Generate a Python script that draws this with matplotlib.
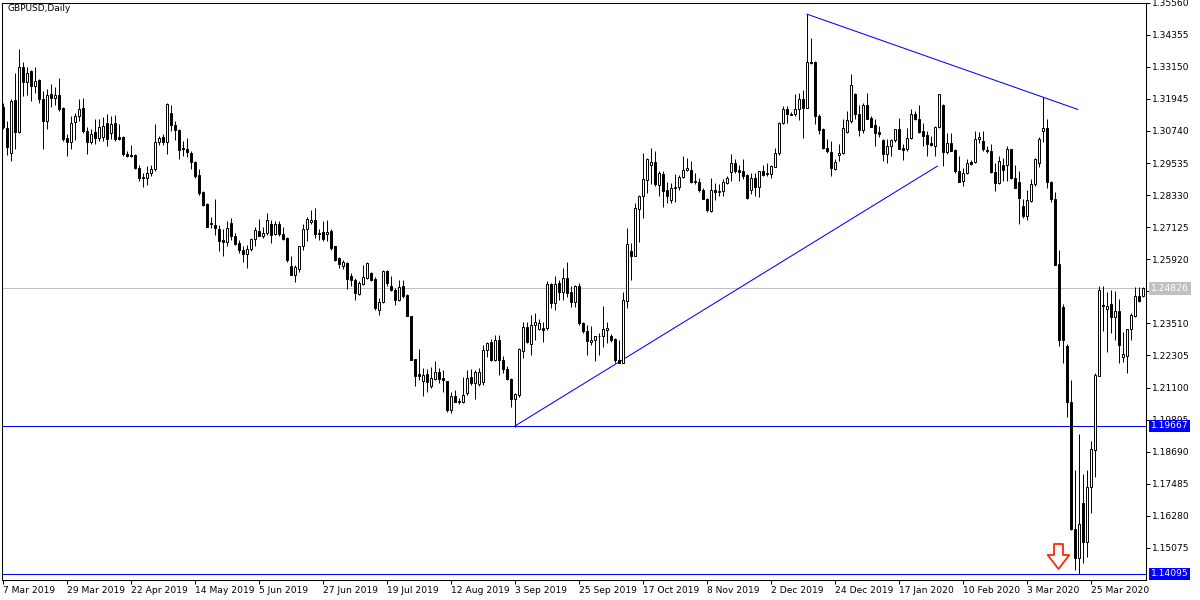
import matplotlib
matplotlib.use("Agg")
import matplotlib.pyplot as plt
import numpy as np
from matplotlib.path import Path

plt.rcParams['font.family'] = ['DejaVu Sans']
plt.rcParams['font.size'] = 6.6

# GBPUSD daily candles, 7 Mar 2019 .. mid Apr 2020
opens = [
    1.3165, 1.3085, 1.2990, 1.3192, 1.3070, 1.3314, 1.3257, 1.3299, 1.3242, 1.3265,
    1.3193, 1.3110, 1.3212, 1.3197, 1.3208, 1.3159, 1.3046, 1.3031, 1.3106, 1.3129,
    1.3159, 1.3073, 1.3031, 1.3069, 1.3046, 1.3053, 1.3103, 1.3068, 1.3103, 1.3053,
    1.3053, 1.2986, 1.2985, 1.2982, 1.2936, 1.2900, 1.2898, 1.2917, 1.2930, 1.3033,
    1.3051, 1.3033, 1.3143, 1.3096, 1.3076, 1.3011, 1.3005, 1.2992, 1.2957, 1.2907,
    1.2844, 1.2798, 1.2729, 1.2722, 1.2706, 1.2664, 1.2656, 1.2729, 1.2679, 1.2654,
    1.2628, 1.2610, 1.2631, 1.2669, 1.2700, 1.2681, 1.2691, 1.2725, 1.2687, 1.2723,
    1.2687, 1.2672, 1.2566, 1.2532, 1.2556, 1.2641, 1.2704, 1.2733, 1.2741, 1.2687,
    1.2695, 1.2687, 1.2697, 1.2641, 1.2597, 1.2568, 1.2578, 1.2528, 1.2515, 1.2463,
    1.2500, 1.2522, 1.2541, 1.2518, 1.2403, 1.2430, 1.2547, 1.2493, 1.2478, 1.2438,
    1.2490, 1.2459, 1.2377, 1.2217, 1.2160, 1.2133, 1.2160, 1.2116, 1.2141, 1.2170,
    1.2145, 1.2133, 1.2026, 1.2079, 1.2061, 1.2054, 1.2089, 1.2148, 1.2126, 1.2124,
    1.2129, 1.2252, 1.2283, 1.2214, 1.2290, 1.2214, 1.2179, 1.2143, 1.2066, 1.2082,
    1.2249, 1.2336, 1.2273, 1.2346, 1.2330, 1.2333, 1.2333, 1.2500, 1.2428, 1.2503,
    1.2468, 1.2522, 1.2468, 1.2430, 1.2493, 1.2352, 1.2321, 1.2280, 1.2290, 1.2302,
    1.2302, 1.2327, 1.2305, 1.2292, 1.2214, 1.2204, 1.2434, 1.2622, 1.2606, 1.2781,
    1.2829, 1.2889, 1.2946, 1.2958, 1.2871, 1.2911, 1.2851, 1.2814, 1.2861, 1.2864,
    1.2901, 1.2927, 1.2927, 1.2882, 1.2882, 1.2854, 1.2817, 1.2773, 1.2852, 1.2844,
    1.2848, 1.2879, 1.2920, 1.2952, 1.2927, 1.2922, 1.2907, 1.2852, 1.2898, 1.2864,
    1.2922, 1.2911, 1.2911, 1.2940, 1.2990, 1.3105, 1.3158, 1.3139, 1.3137, 1.3155,
    1.3196, 1.3162, 1.3335, 1.3334, 1.3130, 1.3080, 1.3011, 1.2996, 1.2932, 1.2984,
    1.2990, 1.3070, 1.3112, 1.3212, 1.3137, 1.3078, 1.3171, 1.3124, 1.3095, 1.3070,
    1.3040, 1.2989, 1.3017, 1.3039, 1.3080, 1.3011, 1.3007, 1.3049, 1.3139, 1.3120,
    1.3074, 1.3058, 1.3027, 1.3017, 1.3090, 1.3171, 1.2995, 1.3030, 1.3002, 1.2923,
    1.2886, 1.2915, 1.2958, 1.2957, 1.3043, 1.3036, 1.3002, 1.2999, 1.2920, 1.2879,
    1.2945, 1.2945, 1.3005, 1.2898, 1.2882, 1.2794, 1.2754, 1.2810, 1.2873, 1.2955,
    1.3074, 1.3086, 1.2882, 1.2819, 1.2576, 1.2412, 1.2267, 1.2054, 1.1580, 1.1468,
    1.1675, 1.1530, 1.1735, 1.1875, 1.2155, 1.2421, 1.2405, 1.2425, 1.2375, 1.2396,
    1.2225, 1.2227, 1.2330, 1.2377, 1.2455, 1.2453,
]
highs = [
    1.3180, 1.3110, 1.3195, 1.3290, 1.3381, 1.3332, 1.3314, 1.3302, 1.3314, 1.3270,
    1.3223, 1.3231, 1.3250, 1.3240, 1.3272, 1.3165, 1.3061, 1.3129, 1.3140, 1.3193,
    1.3197, 1.3088, 1.3080, 1.3118, 1.3118, 1.3125, 1.3137, 1.3130, 1.3133, 1.3099,
    1.3055, 1.2999, 1.3020, 1.2986, 1.2948, 1.2917, 1.2942, 1.2948, 1.3099, 1.3055,
    1.3061, 1.3178, 1.3171, 1.3112, 1.3083, 1.3036, 1.3047, 1.2999, 1.2960, 1.2930,
    1.2848, 1.2802, 1.2750, 1.2817, 1.2722, 1.2704, 1.2735, 1.2748, 1.2691, 1.2666,
    1.2641, 1.2647, 1.2672, 1.2714, 1.2744, 1.2714, 1.2764, 1.2741, 1.2735, 1.2735,
    1.2714, 1.2676, 1.2603, 1.2572, 1.2641, 1.2723, 1.2751, 1.2777, 1.2785, 1.2706,
    1.2737, 1.2739, 1.2706, 1.2643, 1.2601, 1.2591, 1.2582, 1.2541, 1.2522, 1.2509,
    1.2572, 1.2581, 1.2543, 1.2525, 1.2446, 1.2553, 1.2553, 1.2528, 1.2484, 1.2515,
    1.2515, 1.2460, 1.2380, 1.2217, 1.2254, 1.2183, 1.2179, 1.2189, 1.2210, 1.2183,
    1.2177, 1.2133, 1.2095, 1.2101, 1.2070, 1.2151, 1.2177, 1.2179, 1.2177, 1.2183,
    1.2270, 1.2283, 1.2292, 1.2308, 1.2308, 1.2227, 1.2192, 1.2145, 1.2088, 1.2258,
    1.2355, 1.2358, 1.2384, 1.2390, 1.2367, 1.2358, 1.2509, 1.2503, 1.2530, 1.2515,
    1.2559, 1.2582, 1.2490, 1.2497, 1.2503, 1.2355, 1.2346, 1.2340, 1.2305, 1.2315,
    1.2415, 1.2358, 1.2312, 1.2296, 1.2289, 1.2468, 1.2710, 1.2654, 1.2802, 1.2835,
    1.2990, 1.2974, 1.3011, 1.2999, 1.2923, 1.2923, 1.2882, 1.2879, 1.2911, 1.2907,
    1.2980, 1.2974, 1.2961, 1.2917, 1.2898, 1.2861, 1.2823, 1.2898, 1.2879, 1.2873,
    1.2892, 1.2904, 1.2986, 1.2967, 1.2948, 1.2970, 1.2911, 1.2917, 1.2915, 1.2923,
    1.2945, 1.2955, 1.2948, 1.3011, 1.3108, 1.3166, 1.3166, 1.3145, 1.3212, 1.3216,
    1.3228, 1.3513, 1.3422, 1.3337, 1.3137, 1.3086, 1.3045, 1.3036, 1.2967, 1.3024,
    1.3118, 1.3149, 1.3287, 1.3218, 1.3170, 1.3178, 1.3216, 1.3130, 1.3118, 1.3093,
    1.3043, 1.3043, 1.3045, 1.3083, 1.3124, 1.3024, 1.3086, 1.3158, 1.3149, 1.3171,
    1.3105, 1.3074, 1.3055, 1.3093, 1.3212, 1.3174, 1.3068, 1.3068, 1.3005, 1.2980,
    1.2936, 1.2967, 1.2965, 1.3074, 1.3070, 1.3074, 1.3017, 1.3026, 1.2955, 1.2980,
    1.2974, 1.3017, 1.3007, 1.2948, 1.2923, 1.2817, 1.2854, 1.2892, 1.2974, 1.3053,
    1.3203, 1.3118, 1.2886, 1.2846, 1.2626, 1.2425, 1.2274, 1.2139, 1.1800, 1.1936,
    1.1785, 1.1800, 1.1911, 1.2165, 1.2490, 1.2490, 1.2468, 1.2475, 1.2471, 1.2443,
    1.2320, 1.2330, 1.2390, 1.2488, 1.2488, 1.2488,
]
lows = [
    1.3080, 1.2985, 1.2960, 1.3005, 1.3065, 1.3204, 1.3210, 1.3186, 1.3217, 1.3180,
    1.3005, 1.3080, 1.3163, 1.3170, 1.3148, 1.3036, 1.2979, 1.3005, 1.3040, 1.3110,
    1.3065, 1.2986, 1.3025, 1.3025, 1.3036, 1.3036, 1.3017, 1.3043, 1.3036, 1.3040,
    1.2980, 1.2975, 1.2975, 1.2930, 1.2886, 1.2864, 1.2872, 1.2904, 1.2923, 1.3020,
    1.3020, 1.2986, 1.3074, 1.3039, 1.2967, 1.2980, 1.2975, 1.2930, 1.2898, 1.2835,
    1.2792, 1.2714, 1.2710, 1.2685, 1.2622, 1.2603, 1.2643, 1.2666, 1.2647, 1.2616,
    1.2581, 1.2559, 1.2622, 1.2641, 1.2679, 1.2672, 1.2685, 1.2653, 1.2682, 1.2679,
    1.2666, 1.2580, 1.2532, 1.2505, 1.2543, 1.2626, 1.2660, 1.2723, 1.2672, 1.2666,
    1.2660, 1.2660, 1.2627, 1.2584, 1.2559, 1.2555, 1.2480, 1.2490, 1.2438, 1.2459,
    1.2497, 1.2518, 1.2509, 1.2403, 1.2384, 1.2428, 1.2490, 1.2472, 1.2421, 1.2434,
    1.2446, 1.2378, 1.2212, 1.2116, 1.2139, 1.2079, 1.2095, 1.2108, 1.2139, 1.2126,
    1.2095, 1.2020, 1.2016, 1.2054, 1.2049, 1.2051, 1.2083, 1.2120, 1.2066, 1.2116,
    1.2120, 1.2224, 1.2208, 1.2208, 1.2158, 1.2164, 1.2139, 1.2038, 1.1963, 1.2076,
    1.2220, 1.2277, 1.2233, 1.2289, 1.2327, 1.2283, 1.2327, 1.2410, 1.2400, 1.2440,
    1.2440, 1.2450, 1.2412, 1.2412, 1.2346, 1.2315, 1.2233, 1.2271, 1.2208, 1.2233,
    1.2264, 1.2277, 1.2283, 1.2202, 1.2202, 1.2202, 1.2409, 1.2515, 1.2603, 1.2656,
    1.2748, 1.2842, 1.2873, 1.2867, 1.2829, 1.2789, 1.2802, 1.2804, 1.2806, 1.2854,
    1.2897, 1.2923, 1.2877, 1.2873, 1.2844, 1.2817, 1.2769, 1.2770, 1.2814, 1.2829,
    1.2829, 1.2873, 1.2886, 1.2917, 1.2886, 1.2892, 1.2820, 1.2836, 1.2830, 1.2827,
    1.2905, 1.2905, 1.2896, 1.2937, 1.2982, 1.3099, 1.3103, 1.3133, 1.3130, 1.3115,
    1.3049, 1.3162, 1.3325, 1.3099, 1.3061, 1.3007, 1.2992, 1.2905, 1.2927, 1.2961,
    1.2986, 1.3068, 1.3105, 1.3118, 1.3055, 1.3068, 1.3118, 1.3090, 1.3017, 1.3053,
    1.2961, 1.2955, 1.2980, 1.3032, 1.3005, 1.2965, 1.2998, 1.3045, 1.3115, 1.3068,
    1.3017, 1.2980, 1.3017, 1.2980, 1.3086, 1.2942, 1.2986, 1.2999, 1.2917, 1.2882,
    1.2869, 1.2911, 1.2948, 1.2955, 1.3030, 1.2999, 1.2992, 1.2917, 1.2848, 1.2873,
    1.2886, 1.2886, 1.2894, 1.2861, 1.2726, 1.2748, 1.2739, 1.2807, 1.2867, 1.2940,
    1.3033, 1.2861, 1.2807, 1.2572, 1.2267, 1.2202, 1.2001, 1.1575, 1.1424, 1.1411,
    1.1449, 1.1475, 1.1637, 1.1775, 1.2152, 1.2321, 1.2242, 1.2315, 1.2290, 1.2204,
    1.2205, 1.2164, 1.2287, 1.2375, 1.2430, 1.2450,
]
closes = [
    1.3090, 1.3015, 1.3188, 1.3070, 1.3314, 1.3257, 1.3291, 1.3242, 1.3261, 1.3193,
    1.3110, 1.3208, 1.3197, 1.3210, 1.3155, 1.3043, 1.3031, 1.3103, 1.3129, 1.3155,
    1.3073, 1.3031, 1.3061, 1.3046, 1.3088, 1.3093, 1.3045, 1.3099, 1.3043, 1.3043,
    1.2986, 1.2980, 1.2980, 1.2936, 1.2898, 1.2898, 1.2917, 1.2933, 1.3033, 1.3049,
    1.3033, 1.3174, 1.3096, 1.3076, 1.3002, 1.3005, 1.2995, 1.2957, 1.2905, 1.2842,
    1.2795, 1.2714, 1.2723, 1.2710, 1.2660, 1.2657, 1.2710, 1.2679, 1.2651, 1.2626,
    1.2610, 1.2631, 1.2669, 1.2701, 1.2681, 1.2690, 1.2741, 1.2685, 1.2726, 1.2687,
    1.2670, 1.2588, 1.2532, 1.2562, 1.2641, 1.2704, 1.2745, 1.2741, 1.2687, 1.2691,
    1.2670, 1.2694, 1.2635, 1.2591, 1.2576, 1.2581, 1.2518, 1.2513, 1.2465, 1.2503,
    1.2525, 1.2578, 1.2513, 1.2409, 1.2430, 1.2547, 1.2503, 1.2475, 1.2438, 1.2488,
    1.2453, 1.2380, 1.2214, 1.2152, 1.2152, 1.2158, 1.2129, 1.2145, 1.2170, 1.2141,
    1.2139, 1.2026, 1.2079, 1.2057, 1.2054, 1.2082, 1.2145, 1.2126, 1.2170, 1.2168,
    1.2252, 1.2279, 1.2214, 1.2290, 1.2214, 1.2179, 1.2141, 1.2066, 1.2085, 1.2254,
    1.2336, 1.2281, 1.2346, 1.2355, 1.2352, 1.2327, 1.2500, 1.2428, 1.2500, 1.2468,
    1.2522, 1.2465, 1.2430, 1.2490, 1.2352, 1.2321, 1.2286, 1.2290, 1.2302, 1.2305,
    1.2330, 1.2333, 1.2290, 1.2214, 1.2204, 1.2438, 1.2650, 1.2606, 1.2785, 1.2829,
    1.2892, 1.2970, 1.2958, 1.2873, 1.2917, 1.2848, 1.2829, 1.2861, 1.2864, 1.2902,
    1.2927, 1.2936, 1.2882, 1.2886, 1.2854, 1.2819, 1.2776, 1.2852, 1.2844, 1.2850,
    1.2882, 1.2898, 1.2952, 1.2923, 1.2921, 1.2905, 1.2823, 1.2898, 1.2864, 1.2922,
    1.2907, 1.2918, 1.2942, 1.2992, 1.3105, 1.3158, 1.3137, 1.3134, 1.3155, 1.3196,
    1.3162, 1.3334, 1.3331, 1.3130, 1.3078, 1.3011, 1.2999, 1.2936, 1.2958, 1.2992,
    1.3086, 1.3115, 1.3246, 1.3137, 1.3078, 1.3171, 1.3120, 1.3090, 1.3068, 1.3064,
    1.2989, 1.3017, 1.3039, 1.3080, 1.3007, 1.3002, 1.3049, 1.3139, 1.3120, 1.3071,
    1.3055, 1.3024, 1.3020, 1.3090, 1.3212, 1.2995, 1.3030, 1.2999, 1.2923, 1.2882,
    1.2915, 1.2952, 1.2951, 1.3043, 1.3053, 1.3005, 1.2999, 1.2920, 1.2879, 1.2961,
    1.2927, 1.3005, 1.2898, 1.2861, 1.2823, 1.2754, 1.2814, 1.2873, 1.2970, 1.3045,
    1.3086, 1.2882, 1.2819, 1.2572, 1.2289, 1.2289, 1.2054, 1.1580, 1.1468, 1.1599,
    1.1530, 1.1735, 1.1878, 1.2158, 1.2478, 1.2415, 1.2418, 1.2375, 1.2396, 1.2271,
    1.2235, 1.2330, 1.2384, 1.2455, 1.2434, 1.2483,
]

date_labels = ['7 Mar 2019', '29 Mar 2019', '22 Apr 2019', '14 May 2019', '5 Jun 2019',
               '27 Jun 2019', '19 Jul 2019', '12 Aug 2019', '3 Sep 2019', '25 Sep 2019',
               '17 Oct 2019', '8 Nov 2019', '2 Dec 2019', '24 Dec 2019', '17 Jan 2020',
               '10 Feb 2020', '3 Mar 2020', '25 Mar 2020']
date_label_bars = [0, 16, 32, 48, 64, 80, 96, 112, 128, 144, 160, 176, 192, 208, 224, 240, 256, 272]

price_ticks = [1.35560, 1.34355, 1.33150, 1.31945, 1.30740, 1.29535, 1.28330, 1.27125,
               1.25920, 1.24715, 1.23510, 1.22305, 1.21100, 1.19895, 1.18690, 1.17485,
               1.16280, 1.15075]

bid_price = 1.24826
hline_levels = [1.19667, 1.14095]

# trend lines (bar index, price)
up_line_bars = [128, 233.6]
up_line_prices = [1.19657, 1.2942]
down_line_bars = [201, 268.7]
down_line_prices = [1.3513, 1.3155]

# down arrow object
arrow_bar = 263.7
arrow_price = 1.1477

n = len(closes)
idx = np.arange(n)
o = np.array(opens)
h = np.array(highs)
l = np.array(lows)
c = np.array(closes)

fig = plt.figure(figsize=(12, 6), dpi=100)
ax = fig.add_axes([2 / 1200, 1 - 580 / 600, 1144 / 1200, 577.3 / 600])
ax.set_xlim(-0.25, 285.75)
ax.set_ylim(1.13869, 1.35560)

# horizontal levels
ax.axhline(bid_price, color='#c0c0c0', lw=0.75, zorder=1)
for lev in hline_levels:
    ax.axhline(lev, color='#0000ff', lw=0.75, zorder=1)

# trend lines
ax.plot(up_line_bars, up_line_prices, color='#0000ff', lw=0.75, zorder=1)
ax.plot(down_line_bars, down_line_prices, color='#0000ff', lw=0.75, zorder=1)

# candles
ax.vlines(idx, l, h, color='black', lw=0.7, zorder=2)
up = c >= o
body_lo = np.minimum(o, c)
body_h = np.abs(c - o)
ax.bar(idx[up], body_h[up], bottom=body_lo[up], width=0.5, facecolor='white',
       edgecolor='black', lw=0.7, zorder=3)
ax.bar(idx[~up], body_h[~up], bottom=body_lo[~up], width=0.5, facecolor='black',
       edgecolor='black', lw=0.7, zorder=3)

# hollow red down arrow
arrow_verts = [(-4.5, 12.5), (4.5, 12.5), (4.5, 1.5), (10.8, 1.5), (0, -12.5),
               (-10.8, 1.5), (-4.5, 1.5), (-4.5, 12.5)]
arrow_path = Path(arrow_verts, closed=True)
ax.plot([arrow_bar], [arrow_price], marker=arrow_path, markersize=18,
        markerfacecolor='white', markeredgecolor='#ff2a00', markeredgewidth=1.3,
        linestyle='none', zorder=4)

# axes look
for side in ['left', 'right', 'top', 'bottom']:
    ax.spines[side].set_linewidth(0.75)
    ax.spines[side].set_color('black')

ax.yaxis.tick_right()
ax.set_yticks(price_ticks)
ax.set_yticklabels(['%.5f' % v for v in price_ticks])
ax.tick_params(axis='y', length=3, width=0.75, pad=1.5, labelsize=6.6)
ax.set_xticks(date_label_bars)
ax.set_xticklabels(date_labels, ha='left')
ax.tick_params(axis='x', length=3, width=0.75, pad=1.5, labelsize=6.6)

# price labels on the right scale
ax.annotate('%.5f' % bid_price, xy=(1.0, bid_price), xycoords=('axes fraction', 'data'),
            xytext=(3.6, 0), textcoords='offset points', va='center', ha='left',
            color='white', fontsize=6.6, annotation_clip=False,
            bbox=dict(boxstyle='square,pad=0.18', fc='#c0c0c0', ec='none'), zorder=6)
for lev in hline_levels:
    ax.annotate('%.5f' % lev, xy=(1.0, lev), xycoords=('axes fraction', 'data'),
                xytext=(3.6, 0), textcoords='offset points', va='center', ha='left',
                color='white', fontsize=6.6, annotation_clip=False,
                bbox=dict(boxstyle='square,pad=0.18', fc='#0000ff', ec='none'), zorder=6)

fig.text(7 / 1200, 1 - 4 / 600, 'GBPUSD,Daily', fontsize=6.5, va='top', ha='left')

fig.savefig('out.png', dpi=100, facecolor='white')
